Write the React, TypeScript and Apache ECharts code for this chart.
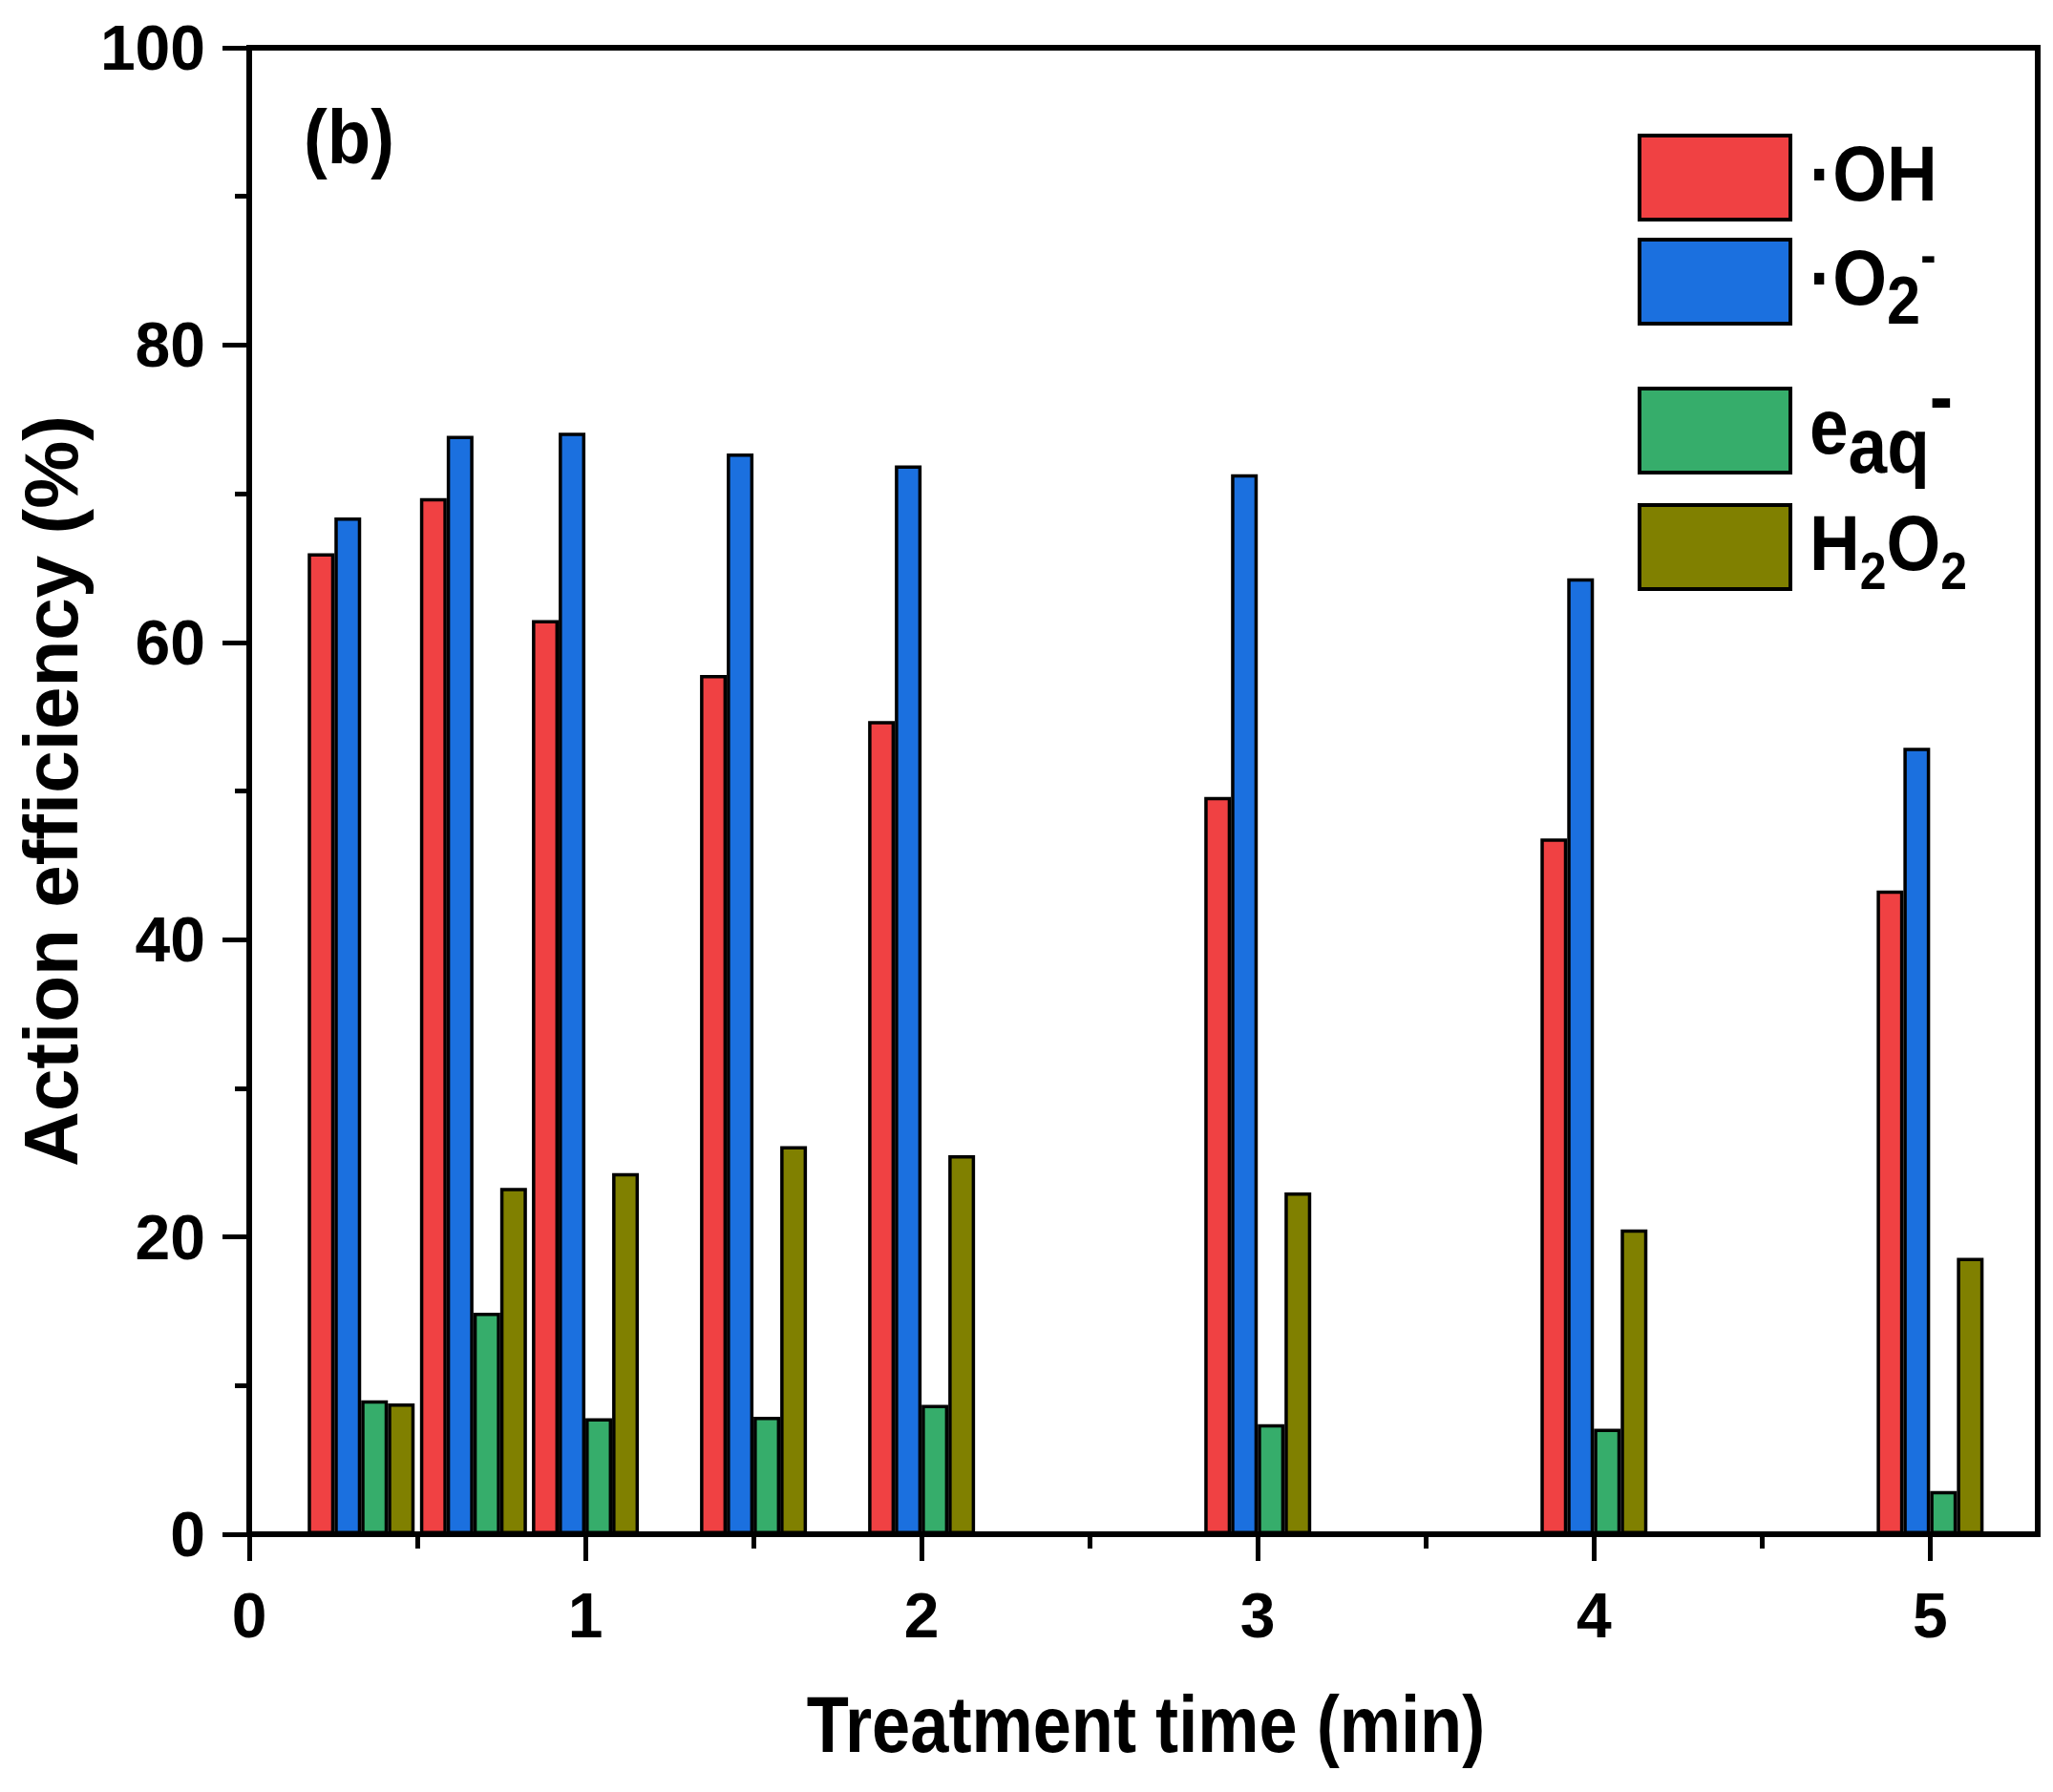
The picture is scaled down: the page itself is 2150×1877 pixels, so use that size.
import React, { useEffect, useRef } from 'react';
import * as echarts from 'echarts';

// treatment time (min) and action efficiency (%) per species
const times = [0.333, 0.667, 1, 1.5, 2, 3, 4, 5];
const ohValues = [66.0, 69.7, 61.5, 57.8, 54.7, 49.6, 46.8, 43.3];
const o2Values = [68.4, 73.9, 74.1, 72.7, 71.9, 71.3, 64.3, 52.9];
const eaqValues = [9.0, 14.9, 7.8, 7.9, 8.7, 7.4, 7.1, 2.9];
const h2o2Values = [8.8, 23.3, 24.3, 26.1, 25.5, 23.0, 20.5, 18.6];

const xMajorTicks = [0, 1, 2, 3, 4, 5];
const xMinorTicks = [0.5, 1.5, 2.5, 3.5, 4.5];

const seriesNames = ['OH', 'O2', 'eaq', 'H2O2'];
const legendLabels: Record<string, string> = {
  OH: '{m|·OH}',
  O2: '{m|·O}{o2|2}{osup|-}',
  eaq: '{m|e}{aq|aq}{esup|-}',
  H2O2: '{m|H}{h2|2}{m|O}{h2|2}',
};
const legendTops = [140, 249, 405, 527];

const FONT = "'Liberation Sans', Arial, sans-serif";
const COLORS = ['#F04143', '#1B70DF', '#36AD6B', '#808000'];

export default function App() {
  const ref = useRef<HTMLDivElement>(null);

  useEffect(() => {
    if (!ref.current) return;
    const chart = echarts.init(ref.current, undefined, { renderer: 'svg' });

    const valueSets = [ohValues, o2Values, eaqValues, h2o2Values];
    const series = seriesNames.map((name, k) => ({
      name,
      type: 'bar',
      xAxisIndex: 0,
      yAxisIndex: 0,
      data: times.map((t, i) => [t, valueSets[k][i]]),
      barWidth: 28,
      barGap: '0%',
      itemStyle: { color: COLORS[k], borderColor: '#000', borderWidth: 3.5 },
    }));

    // every token hangs from the line top; padding-top sets its baseline
    const tok = (fontSize: number, padTop: number) => ({
      fontFamily: FONT,
      fontWeight: 'bold',
      fontSize,
      verticalAlign: 'top',
      padding: [padTop, 0, 0, 0],
      fill: '#000',
      color: '#000',
    });
    const rich = {
      m: tok(82, 42),
      o2: tok(71, 72),
      osup: tok(55, 32),
      aq: tok(82, 62),
      esup: tok(82, 10),
      h2: tok(56, 84),
    };

    const legends = seriesNames.map((name, k) => ({
      data: [name],
      left: 1715,
      top: legendTops[k],
      padding: 0,
      icon: 'rect',
      itemWidth: 158,
      itemHeight: 88,
      selectedMode: false,
      itemStyle: { borderColor: '#000', borderWidth: 4 },
      formatter: () => '',
      textStyle: { fontSize: 10 },
    }));

    const legendTexts = seriesNames.map((name, k) => ({
      type: 'text',
      x: 1895,
      y: legendTops[k] - 42,
      scaleX: 0.89,
      style: {
        text: legendLabels[name],
        rich,
        align: 'left',
        verticalAlign: 'top',
        fontFamily: FONT,
        fontWeight: 'bold',
        fontSize: 82,
        fill: '#000',
      },
    }));

    const axisFont = { fontFamily: FONT, fontWeight: 'bold', color: '#000' };

    chart.setOption({
      animation: false,
      backgroundColor: '#fff',
      legend: legends,
      graphic: [
        {
          type: 'text',
          x: 318,
          y: 143,
          scaleX: 0.93,
          style: {
            text: '(b)',
            align: 'left',
            verticalAlign: 'middle',
            fontFamily: FONT,
            fontWeight: 'bold',
            fontSize: 80,
            fill: '#000',
          },
        },
        {
          type: 'text',
          x: 1200,
          y: 1806,
          scaleX: 0.86,
          style: {
            text: 'Treatment time (min)',
            align: 'center',
            verticalAlign: 'middle',
            fontFamily: FONT,
            fontWeight: 'bold',
            fontSize: 84,
            fill: '#000',
          },
        },
        ...legendTexts,
      ],
      grid: {
        left: 261,
        right: 16,
        top: 50,
        bottom: 270,
        show: true,
        borderColor: '#000',
        borderWidth: 6,
        backgroundColor: 'transparent',
      },
      xAxis: [
        {
          type: 'value',
          min: 0,
          max: 5.32,
          axisLine: { show: true, lineStyle: { color: '#000', width: 6 } },
          axisTick: { show: true, customValues: xMajorTicks, length: 28, lineStyle: { color: '#000', width: 5 } },
          axisLabel: { customValues: xMajorTicks, margin: 52, fontSize: 66, ...axisFont },
          splitLine: { show: false },
        },
        {
          type: 'value',
          min: 0,
          max: 5.32,
          position: 'bottom',
          axisLine: { show: false },
          axisTick: { show: true, customValues: xMinorTicks, length: 15, lineStyle: { color: '#000', width: 5 } },
          axisLabel: { show: false },
          splitLine: { show: false },
        },
      ],
      yAxis: {
        type: 'value',
        min: 0,
        max: 100,
        interval: 20,
        name: 'Action efficiency (%)',
        nameLocation: 'middle',
        nameGap: 157,
        nameTextStyle: { ...axisFont, fontSize: 80 },
        axisLine: { show: true, lineStyle: { color: '#000', width: 6 } },
        axisTick: { show: true, length: 28, lineStyle: { color: '#000', width: 5 } },
        minorTick: { show: true, splitNumber: 2, length: 15, lineStyle: { color: '#000', width: 5 } },
        axisLabel: { margin: 46, fontSize: 66, ...axisFont },
        splitLine: { show: false },
      },
      series,
    });

    return () => chart.dispose();
  }, []);

  return (
    <div
      ref={ref}
      style={{ position: 'absolute', left: 0, top: 0, width: 2150, height: 1877, background: '#fff' }}
    />
  );
}
